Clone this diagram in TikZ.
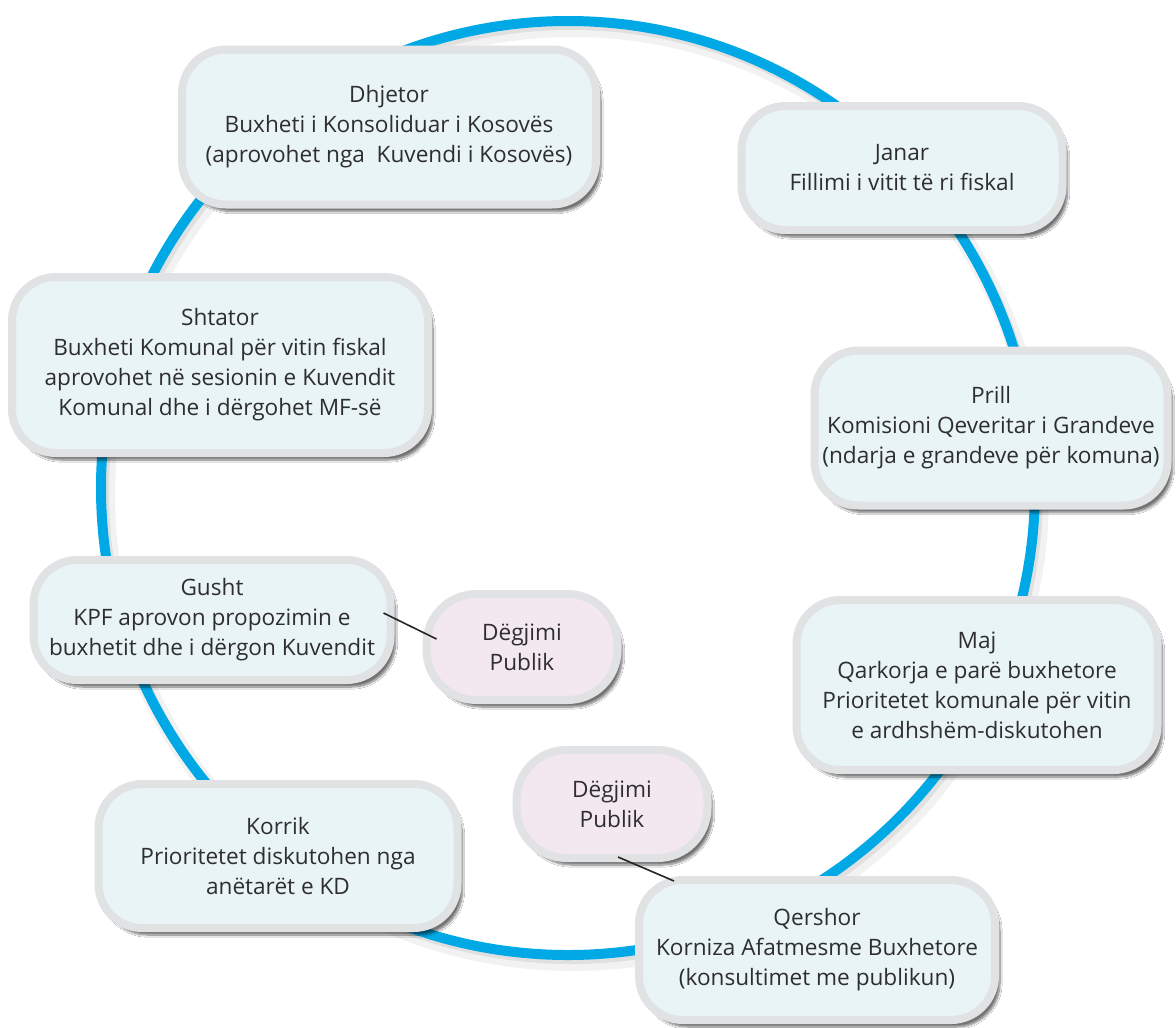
\documentclass[tikz,border=0pt]{standalone}
\usepackage{fontspec}
\setmainfont{Open Sans}
\usetikzlibrary{shadows.blur,calc}
\definecolor{ring}{HTML}{00A9E6}
\definecolor{boxfill}{HTML}{E9F4F7}
\definecolor{pinkfill}{HTML}{F3E7F0}
\definecolor{rim}{HTML}{E1E2E4}
\definecolor{txt}{HTML}{2E2E2E}
\begin{document}
\begin{tikzpicture}[x=1pt,y=-1pt,
  month/.style={draw=rim, line width=8pt, fill=boxfill, rounded corners=44pt,
    align=center, text=txt, font=\fontsize{22.6}{30}\selectfont, inner sep=0pt,
    blur shadow={shadow xshift=5pt, shadow yshift=-7pt, shadow blur steps=10, shadow opacity=55}},
  hearing/.style={month, fill=pinkfill, rounded corners=50pt},
  link/.style={draw=black!85, line width=1.6pt}]
\useasboundingbox (0,0) rectangle (1176,1028);
\fill[white] (0,0) rectangle (1176,1028);
% ring with soft shadow
\draw[black, opacity=0.05, line width=18pt] (573,495) circle (467);
\draw[black, opacity=0.07, line width=10pt] (571,492) circle (467);
\draw[ring, line width=10pt] (568,488) circle (467);
% month boxes
\node[month, minimum width=414pt, minimum height=155pt] (dhjetor) at (389,127)
  {Dhjetor\\Buxheti i Konsoliduar i Kosovës\\(aprovohet nga\ \ Kuvendi i Kosovës)};
\node[month, minimum width=321pt, minimum height=124pt] (janar) at (902,168)
  {Janar\\Fillimi i vitit të ri fiskal};
\node[month, minimum width=416pt, minimum height=176pt] (shtator) at (220,365)
  {Shtator\\Buxheti Komunal për vitin fiskal\\aprovohet në sesionin e Kuvendit\\Komunal dhe i dërgohet MF-së};
\node[month, minimum width=353pt, minimum height=155pt] (prill) at (991,428)
  {Prill\\Komisioni Qeveritar i Grandeve\\(ndarja e grandeve për komuna)};
\node[month, minimum width=357pt, minimum height=120pt] (gusht) at (212,620)
  {Gusht\\KPF aprovon propozimin e\\buxhetit dhe i dërgon Kuvendit};
\node[month, minimum width=361pt, minimum height=170pt] (maj) at (977,685)
  {Maj\\Qarkorja e parë buxhetore\\Prioritetet komunale për vitin\\e ardhshëm-diskutohen};
\node[month, minimum width=359pt, minimum height=144pt] (korrik) at (278,856)
  {Korrik\\Prioritetet diskutohen nga\\anëtarët e KD};
\node[month, minimum width=356pt, minimum height=140pt] (qershor) at (817,950)
  {Qershor\\Korniza Afatmesme Buxhetore\\(konsultimet me publikun)};
% public hearings
\node[hearing, minimum width=191pt, minimum height=106pt] (hear1) at (522,647)
  {Dëgjimi\\Publik};
\node[hearing, minimum width=191pt, minimum height=108pt] (hear2) at (612,804)
  {Dëgjimi\\Publik};
% connectors
\draw[link] ($(gusht.east)+(-11,-7)$) -- ($(hear1.west)+(14,-8)$);
\draw[link] ($(hear2.south)+(6,-5)$) -- ($(qershor.north)+(-143,5)$);
\end{tikzpicture}
\end{document}
